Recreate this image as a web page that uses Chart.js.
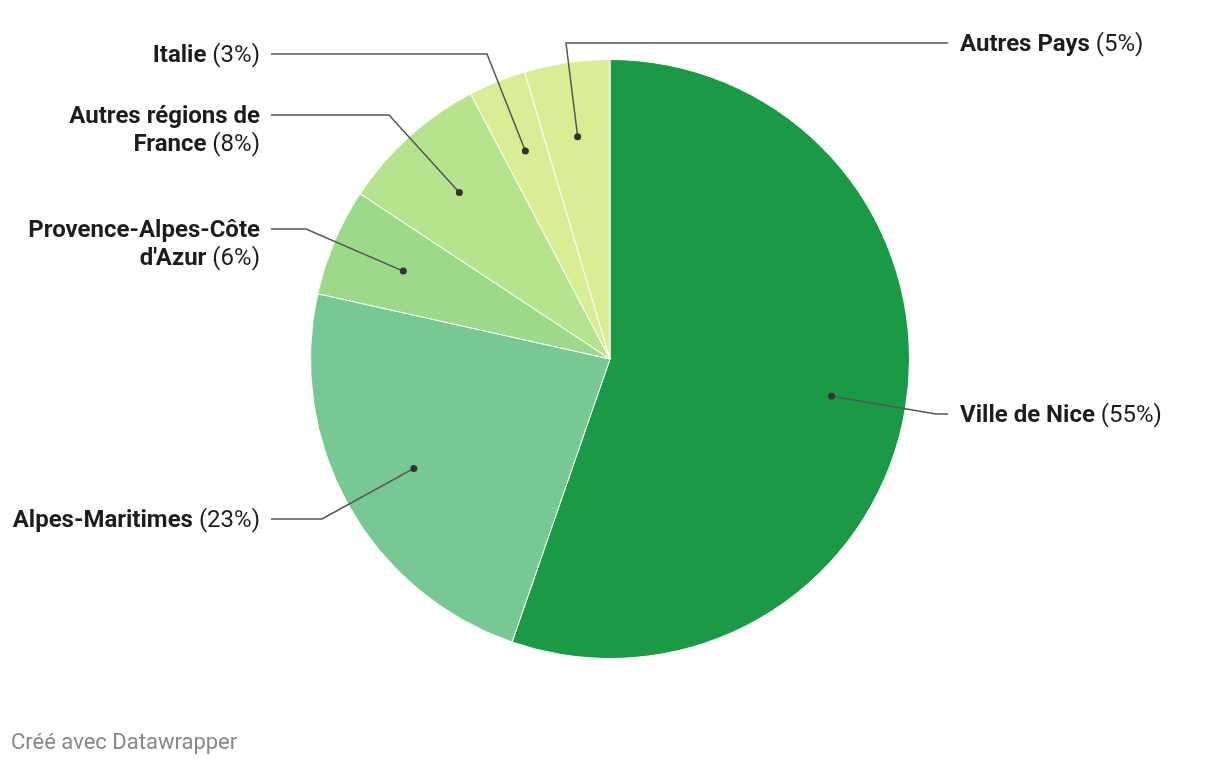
<!DOCTYPE html>
<html>
<head>
<meta charset="utf-8">
<script src="https://cdn.jsdelivr.net/npm/chart.js@4"></script>
<style>
  html, body { margin: 0; padding: 0; background: #fff; }
  #wrap { position: relative; width: 1220px; height: 766px; }
  #footer {
    position: absolute; left: 11px; top: 729px;
    font-family: Roboto, sans-serif; font-size: 22px; color: #888;
  }
</style>
</head>
<body>
<div id="wrap">
  <canvas id="canvas" width="1220" height="766"></canvas>
  <div id="footer">Créé avec Datawrapper</div>
</div>
<script>
const categories = ['Ville de Nice', 'Alpes-Maritimes', "Provence-Alpes-Côte d'Azur", 'Autres régions de France', 'Italie', 'Autres Pays'];
const shares = [55.3, 23.2, 5.8, 8.0, 3.1, 4.6];
const colors = ['#1a9a44', '#78c893', '#9dd98b', '#b6e48e', '#d9ed95', '#d9ed95'];

// where each label sits and where its leader line bends
const labelLayout = [
    { side: 'right', y: 414, elbowX: 936, elbowY: 414 },
    { side: 'left', y: 519, elbowX: 322, elbowY: 519 },
    { side: 'left', y: 229, elbowX: 306, elbowY: 229 },
    { side: 'left', y: 115, elbowX: 389, elbowY: 115 },
    { side: 'left', y: 54, elbowX: 487, elbowY: 54 },
    { side: 'right', y: 43, elbowX: 566, elbowY: 43 },
];

const fontSize = 24;
const lineHeight = 28;
const textShift = 2;
const boldFont = `bold ${fontSize}px Roboto`;
const normalFont = `${fontSize}px Roboto`;

const wrapName = (ctx, name, maxWidth) => {
    ctx.font = boldFont;
    const words = name.split(' ');
    const lines = [];
    let current = '';
    words.forEach(w => {
        const test = current ? current + ' ' + w : w;
        if (ctx.measureText(test).width > maxWidth && current) {
            lines.push(current);
            current = w;
        } else {
            current = test;
        }
    });
    lines.push(current);
    return lines;
};

const leaderLabels = {
    id: 'leaderLabels',
    afterDatasetsDraw(chart) {
        const ctx = chart.ctx;
        const meta = chart.getDatasetMeta(0);
        const total = shares.reduce((a, b) => a + b, 0);

        meta.data.forEach((arc, i) => {
            const { x, y, startAngle, endAngle, outerRadius } = arc.getProps(['x', 'y', 'startAngle', 'endAngle', 'outerRadius'], true);
            const mid = (startAngle + endAngle) / 2;
            const dx = x + Math.cos(mid) * outerRadius * 0.75;
            const dy = y + Math.sin(mid) * outerRadius * 0.75;
            const lay = labelLayout[i];
            const endX = lay.side === 'right' ? 948 : 271;

            ctx.save();
            ctx.strokeStyle = '#555';
            ctx.lineWidth = 1.5;
            ctx.beginPath();
            ctx.moveTo(dx, dy);
            ctx.lineTo(lay.elbowX, lay.elbowY);
            ctx.lineTo(endX, lay.elbowY);
            ctx.stroke();

            ctx.fillStyle = '#333';
            ctx.beginPath();
            ctx.arc(dx, dy, 3.5, 0, Math.PI * 2);
            ctx.fill();

            const pct = ` (${Math.round(shares[i] / total * 100)}%)`;
            const lines = wrapName(ctx, categories[i], 240);
            ctx.textBaseline = 'middle';
            ctx.fillStyle = '#1d1d1d';
            lines.forEach((line, li) => {
                const ly = lay.y + li * lineHeight + textShift;
                const last = li === lines.length - 1;
                ctx.font = boldFont;
                const bw = ctx.measureText(line).width;
                ctx.font = normalFont;
                const nw = last ? ctx.measureText(pct).width : 0;
                const left = lay.side === 'right' ? 960 : 260 - bw - nw;
                ctx.textAlign = 'left';
                ctx.font = boldFont;
                ctx.fillText(line, left, ly);
                if (last) {
                    ctx.font = normalFont;
                    ctx.fillText(pct, left + bw, ly);
                }
            });
            ctx.restore();
        });
    }
};

new Chart(document.getElementById('canvas'), {
    type: 'pie',
    data: {
        labels: categories,
        datasets: [{
            data: shares,
            backgroundColor: colors,
            borderColor: '#fff',
            borderWidth: 1,
        }]
    },
    plugins: [leaderLabels],
    options: {
        responsive: false,
        animation: false,
        layout: {
            padding: { left: 310, right: 310, top: 59, bottom: 107 }
        },
        plugins: {
            legend: { display: false },
            tooltip: { enabled: false },
        },
    },
});
</script>
</body>
</html>
